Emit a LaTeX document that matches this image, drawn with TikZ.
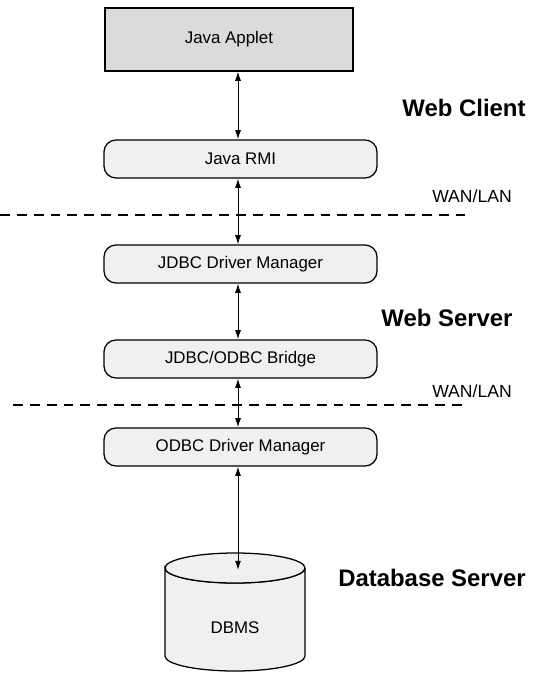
\documentclass[tikz,border=0pt]{standalone}
\usepackage{fontspec}
\setmainfont{Liberation Sans}
\usetikzlibrary{arrows.meta}

\begin{document}
\begin{tikzpicture}[x={(0.025cm,0cm)},y={(0cm,-0.025cm)},>={Latex[length=2.3mm,width=1.5mm]},
    box/.style={draw,line width=0.9pt,rounded corners=0.3cm,fill=gray!12,
        minimum width=6.825cm,minimum height=0.95cm,font=\fontsize{12}{14}\selectfont},
    applet/.style={draw,line width=0.9pt,fill=gray!28,
        minimum width=6.2cm,minimum height=1.575cm,font=\fontsize{12}{14}\selectfont},
    db/.style={draw,line width=0.9pt,fill=gray!12},
    tier/.style={font=\fontsize{17}{20}\selectfont\bfseries},
    net/.style={font=\fontsize{12.5}{15}\selectfont},
    link/.style={<->,line width=0.7pt},
    cut/.style={line width=0.9pt,dash pattern=on 7pt off 5pt}]
        % 页面大小
        \useasboundingbox (0,0) rectangle (539,675);
        % 各层的框
        \node[applet] (applet) at (229,39.5) {Java Applet};
        \node[box] (rmi) at (240.5,159) {Java RMI};
        \node[box] (jdbc) at (240.5,264) {JDBC Driver Manager};
        \node[box] (bridge) at (240.5,359) {JDBC/ODBC Bridge};
        \node[box] (odbc) at (240.5,447) {ODBC Driver Manager};
        % 数据库圆柱
        \draw[db] (305,568) -- (305,656) arc[start angle=0,end angle=-180,x radius=1.75cm,y radius=0.375cm]
            -- (165,568) arc[start angle=180,end angle=360,x radius=1.75cm,y radius=0.375cm];
        \draw[db] (235,568) ellipse [x radius=1.75cm,y radius=0.375cm];
        \node[font=\fontsize{12}{14}\selectfont] (dbms) at (235,628) {DBMS};
        \coordinate (dbin) at (238,570);
        % 层名
        \node[tier] (client) at (464,108) {Web Client};
        \node[tier] (server) at (447,318) {Web Server};
        \node[tier] (dbserver) at (432,578) {Database Server};
        % 网络分界线
        \coordinate (cut1a) at (0,215);
        \coordinate (cut1b) at (467,215);
        \coordinate (cut2a) at (13,405);
        \coordinate (cut2b) at (467,405);
        \draw[cut] (cut1a) -- (cut1b);
        \draw[cut] (cut2a) -- (cut2b);
        \node[net] (wan1) at (472,196) {WAN/LAN};
        \node[net] (wan2) at (472,391) {WAN/LAN};
        % 双向箭头
        \draw[link] (applet.south -| 238,0) -- (rmi.north -| 238,0);
        \draw[link] (rmi.south -| 238,0) -- (jdbc.north -| 238,0);
        \draw[link] (jdbc.south -| 238,0) -- (bridge.north -| 238,0);
        \draw[link] (bridge.south -| 238,0) -- (odbc.north -| 238,0);
        \draw[link] (odbc.south -| dbin) -- (dbin);
    \end{tikzpicture}
\end{document}
